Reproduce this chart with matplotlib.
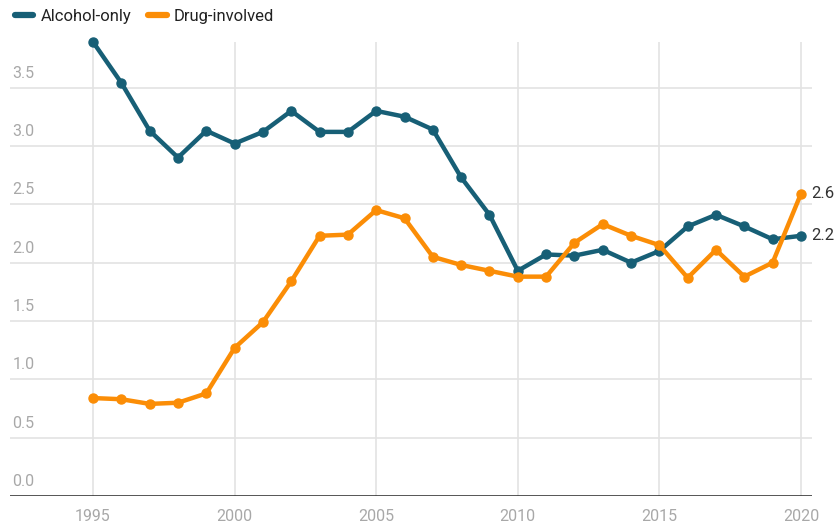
import numpy as np
import matplotlib.pyplot as plt
from matplotlib.lines import Line2D

plt.rcParams['font.family'] = ['Roboto', 'DejaVu Sans']

years = list(range(1995, 2021))
alcohol_only = [3.89, 3.54, 3.13, 2.90, 3.13, 3.02, 3.12, 3.30, 3.12, 3.12,
                3.30, 3.25, 3.14, 2.73, 2.41, 1.93, 2.07, 2.06, 2.11, 2.00,
                2.10, 2.31, 2.41, 2.31, 2.20, 2.23]
drug_involved = [0.84, 0.83, 0.79, 0.80, 0.88, 1.27, 1.49, 1.84, 2.23, 2.24,
                 2.45, 2.38, 2.05, 1.98, 1.93, 1.88, 1.88, 2.17, 2.33, 2.23,
                 2.15, 1.87, 2.11, 1.88, 2.00, 2.59]
series_names = ['Alcohol-only', 'Drug-involved']
y_ticks = [0.0, 0.5, 1.0, 1.5, 2.0, 2.5, 3.0, 3.5]
x_ticks = [1995, 2000, 2005, 2010, 2015, 2020]

TEAL = '#175f76'
ORANGE = '#fb8d06'
GRID = '#e3e3e3'
TICK = '#a8a8a8'

fig = plt.figure(figsize=(8.4, 5.25), dpi=100)
ax = fig.add_axes([0.012, 0.055, 0.955, 0.865])

for vals, color in [(alcohol_only, TEAL), (drug_involved, ORANGE)]:
    ax.plot(years, vals, color=color, lw=3.2, marker='o', ms=6.5,
            solid_joinstyle='round', solid_capstyle='round', zorder=3,
            clip_on=False)

ax.set_xlim(1992.07, 2020.4)
ax.set_ylim(0, 3.89)

for y in y_ticks[1:]:
    ax.axhline(y, color=GRID, lw=1.2, zorder=1)
for x in x_ticks:
    ax.axvline(x, color=GRID, lw=1.2, zorder=1)
ax.axhline(0, color='#222222', lw=1.8, zorder=2)

ax.set_xticks(x_ticks)
ax.set_xticklabels([str(x) for x in x_ticks])
ax.tick_params(axis='x', length=0, pad=9, labelsize=11.5, labelcolor=TICK)
ax.set_yticks([])
for y in y_ticks:
    ax.text(1992.15, y + 0.06, f'{y:.1f}', color=TICK, fontsize=11.5,
            ha='left', va='bottom')

for spine in ax.spines.values():
    spine.set_visible(False)

# end-of-line value labels
ax.text(2020.35, drug_involved[-1], f'{drug_involved[-1]:.1f}', color='#333333',
        fontsize=12, ha='left', va='center', clip_on=False)
ax.text(2020.35, alcohol_only[-1], f'{alcohol_only[-1]:.1f}', color='#333333',
        fontsize=12, ha='left', va='center', clip_on=False)

handles = [Line2D([0], [0], color=TEAL, lw=4.5, solid_capstyle='round'),
           Line2D([0], [0], color=ORANGE, lw=4.5, solid_capstyle='round')]
fig.legend(handles, series_names, loc='upper left', bbox_to_anchor=(0.0, 1.012),
           ncol=2, frameon=False, fontsize=12, handlelength=1.1,
           handletextpad=0.45, columnspacing=1.0, labelcolor='#222222')

fig.savefig('out.png', dpi=100)
